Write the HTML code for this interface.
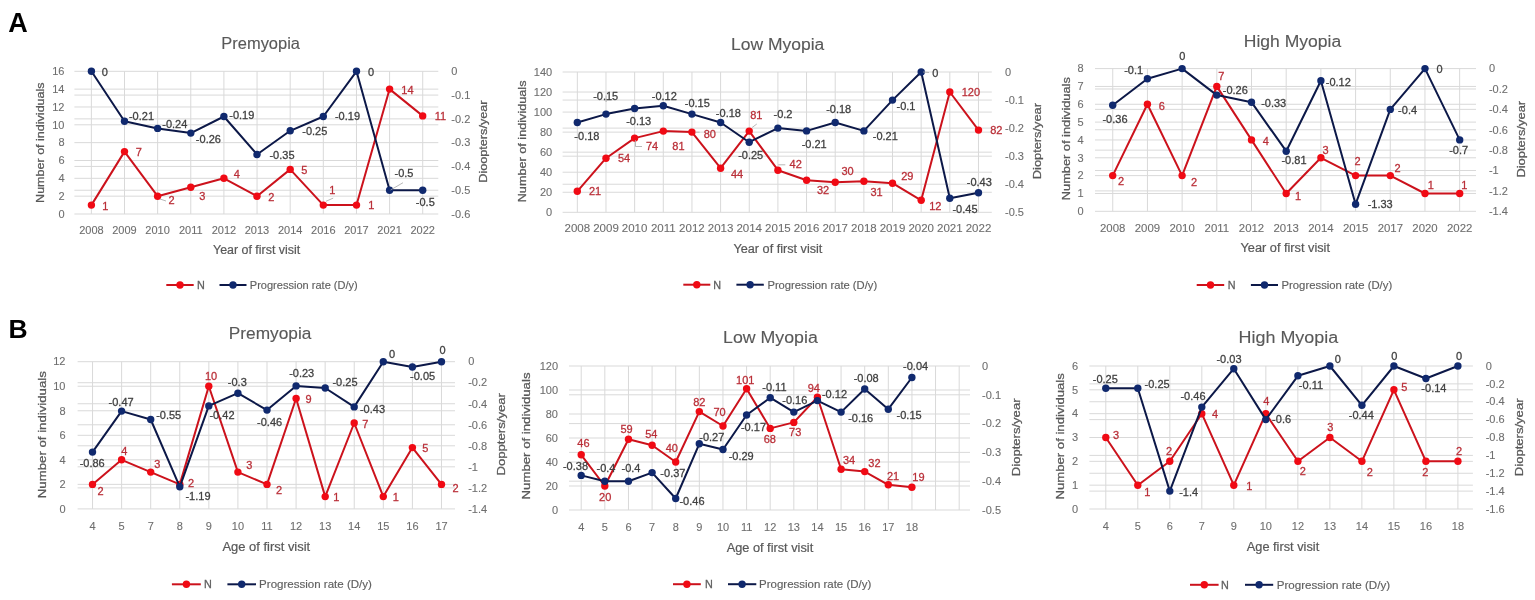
<!DOCTYPE html>
<html><head><meta charset="utf-8"><title>Myopia progression charts</title>
<style>
html,body{margin:0;padding:0;background:#fff;}
body{width:1535px;height:600px;overflow:hidden;}
svg{display:block;font-family:"Liberation Sans", Arial, sans-serif;}
text{stroke-width:0.28;}
</style></head>
<body>
<svg width="1535" height="600" viewBox="0 0 1535 600">
<rect width="1535" height="600" fill="#fff"/>
<path d="M74.4 71.30H438.3M74.4 89.14H438.3M74.4 95.08H438.3M74.4 106.97H438.3M74.4 118.87H438.3M74.4 124.81H438.3M74.4 142.65H438.3M74.4 160.49H438.3M74.4 166.43H438.3M74.4 178.32H438.3M74.4 190.22H438.3M74.4 196.16H438.3M74.4 214.00H438.3M91.37 71.3V214.0M124.50 71.3V214.0M157.64 71.3V214.0M190.78 71.3V214.0M223.91 71.3V214.0M257.05 71.3V214.0M290.19 71.3V214.0M323.32 71.3V214.0M356.46 71.3V214.0M389.60 71.3V214.0M422.73 71.3V214.0" stroke="#d9d9d9" stroke-width="1" fill="none"/>
<text x="64.5" y="217.7" font-size="11.00" fill="#6e6e6e" stroke="#6e6e6e" text-anchor="end" style="stroke-width:0.1px">0</text>
<text x="64.5" y="199.9" font-size="11.00" fill="#6e6e6e" stroke="#6e6e6e" text-anchor="end" style="stroke-width:0.1px">2</text>
<text x="64.5" y="182.0" font-size="11.00" fill="#6e6e6e" stroke="#6e6e6e" text-anchor="end" style="stroke-width:0.1px">4</text>
<text x="64.5" y="164.2" font-size="11.00" fill="#6e6e6e" stroke="#6e6e6e" text-anchor="end" style="stroke-width:0.1px">6</text>
<text x="64.5" y="146.3" font-size="11.00" fill="#6e6e6e" stroke="#6e6e6e" text-anchor="end" style="stroke-width:0.1px">8</text>
<text x="64.5" y="128.5" font-size="11.00" fill="#6e6e6e" stroke="#6e6e6e" text-anchor="end" style="stroke-width:0.1px">10</text>
<text x="64.5" y="110.7" font-size="11.00" fill="#6e6e6e" stroke="#6e6e6e" text-anchor="end" style="stroke-width:0.1px">12</text>
<text x="64.5" y="92.8" font-size="11.00" fill="#6e6e6e" stroke="#6e6e6e" text-anchor="end" style="stroke-width:0.1px">14</text>
<text x="64.5" y="75.0" font-size="11.00" fill="#6e6e6e" stroke="#6e6e6e" text-anchor="end" style="stroke-width:0.1px">16</text>
<text x="451.3" y="75.0" font-size="11.00" fill="#6e6e6e" stroke="#6e6e6e" text-anchor="start" style="stroke-width:0.1px">0</text>
<text x="451.3" y="98.8" font-size="11.00" fill="#6e6e6e" stroke="#6e6e6e" text-anchor="start" style="stroke-width:0.1px">-0.1</text>
<text x="451.3" y="122.6" font-size="11.00" fill="#6e6e6e" stroke="#6e6e6e" text-anchor="start" style="stroke-width:0.1px">-0.2</text>
<text x="451.3" y="146.3" font-size="11.00" fill="#6e6e6e" stroke="#6e6e6e" text-anchor="start" style="stroke-width:0.1px">-0.3</text>
<text x="451.3" y="170.1" font-size="11.00" fill="#6e6e6e" stroke="#6e6e6e" text-anchor="start" style="stroke-width:0.1px">-0.4</text>
<text x="451.3" y="193.9" font-size="11.00" fill="#6e6e6e" stroke="#6e6e6e" text-anchor="start" style="stroke-width:0.1px">-0.5</text>
<text x="451.3" y="217.7" font-size="11.00" fill="#6e6e6e" stroke="#6e6e6e" text-anchor="start" style="stroke-width:0.1px">-0.6</text>
<text x="91.4" y="233.6" font-size="11.00" fill="#6e6e6e" stroke="#6e6e6e" text-anchor="middle" style="stroke-width:0.1px">2008</text>
<text x="124.5" y="233.6" font-size="11.00" fill="#6e6e6e" stroke="#6e6e6e" text-anchor="middle" style="stroke-width:0.1px">2009</text>
<text x="157.6" y="233.6" font-size="11.00" fill="#6e6e6e" stroke="#6e6e6e" text-anchor="middle" style="stroke-width:0.1px">2010</text>
<text x="190.8" y="233.6" font-size="11.00" fill="#6e6e6e" stroke="#6e6e6e" text-anchor="middle" style="stroke-width:0.1px">2011</text>
<text x="223.9" y="233.6" font-size="11.00" fill="#6e6e6e" stroke="#6e6e6e" text-anchor="middle" style="stroke-width:0.1px">2012</text>
<text x="257.0" y="233.6" font-size="11.00" fill="#6e6e6e" stroke="#6e6e6e" text-anchor="middle" style="stroke-width:0.1px">2013</text>
<text x="290.2" y="233.6" font-size="11.00" fill="#6e6e6e" stroke="#6e6e6e" text-anchor="middle" style="stroke-width:0.1px">2014</text>
<text x="323.3" y="233.6" font-size="11.00" fill="#6e6e6e" stroke="#6e6e6e" text-anchor="middle" style="stroke-width:0.1px">2016</text>
<text x="356.5" y="233.6" font-size="11.00" fill="#6e6e6e" stroke="#6e6e6e" text-anchor="middle" style="stroke-width:0.1px">2017</text>
<text x="389.6" y="233.6" font-size="11.00" fill="#6e6e6e" stroke="#6e6e6e" text-anchor="middle" style="stroke-width:0.1px">2021</text>
<text x="422.7" y="233.6" font-size="11.00" fill="#6e6e6e" stroke="#6e6e6e" text-anchor="middle" style="stroke-width:0.1px">2022</text>
<polyline points="91.4,205.1 124.5,151.6 157.6,196.2 190.8,187.2 223.9,178.3 257.0,196.2 290.2,169.4 323.3,205.1 356.5,205.1 389.6,89.1 422.7,115.9" stroke="#cc121c" stroke-width="2" fill="none" stroke-linejoin="round"/>
<circle cx="91.4" cy="205.1" r="3.7" fill="#f00a14"/>
<circle cx="124.5" cy="151.6" r="3.7" fill="#f00a14"/>
<circle cx="157.6" cy="196.2" r="3.7" fill="#f00a14"/>
<circle cx="190.8" cy="187.2" r="3.7" fill="#f00a14"/>
<circle cx="223.9" cy="178.3" r="3.7" fill="#f00a14"/>
<circle cx="257.0" cy="196.2" r="3.7" fill="#f00a14"/>
<circle cx="290.2" cy="169.4" r="3.7" fill="#f00a14"/>
<circle cx="323.3" cy="205.1" r="3.7" fill="#f00a14"/>
<circle cx="356.5" cy="205.1" r="3.7" fill="#f00a14"/>
<circle cx="389.6" cy="89.1" r="3.7" fill="#f00a14"/>
<circle cx="422.7" cy="115.9" r="3.7" fill="#f00a14"/>
<polyline points="91.4,71.3 124.5,121.2 157.6,128.4 190.8,133.1 223.9,116.5 257.0,154.5 290.2,130.8 323.3,116.5 356.5,71.3 389.6,190.2 422.7,190.2" stroke="#0c1848" stroke-width="2" fill="none" stroke-linejoin="round"/>
<circle cx="91.4" cy="71.3" r="3.7" fill="#10296e"/>
<circle cx="124.5" cy="121.2" r="3.7" fill="#10296e"/>
<circle cx="157.6" cy="128.4" r="3.7" fill="#10296e"/>
<circle cx="190.8" cy="133.1" r="3.7" fill="#10296e"/>
<circle cx="223.9" cy="116.5" r="3.7" fill="#10296e"/>
<circle cx="257.0" cy="154.5" r="3.7" fill="#10296e"/>
<circle cx="290.2" cy="130.8" r="3.7" fill="#10296e"/>
<circle cx="323.3" cy="116.5" r="3.7" fill="#10296e"/>
<circle cx="356.5" cy="71.3" r="3.7" fill="#10296e"/>
<circle cx="389.6" cy="190.2" r="3.7" fill="#10296e"/>
<circle cx="422.7" cy="190.2" r="3.7" fill="#10296e"/>
<line x1="326.0" y1="201.3" x2="333.2" y2="198.1" stroke="#a6a6a6" stroke-width="0.8"/>
<line x1="390.5" y1="190.0" x2="403.0" y2="182.7" stroke="#a6a6a6" stroke-width="0.8"/>
<line x1="160.0" y1="199.0" x2="166.0" y2="201.0" stroke="#a6a6a6" stroke-width="0.8"/>
<text x="105.3" y="209.5" font-size="11.00" fill="#ba2f38" stroke="#ba2f38" text-anchor="middle">1</text>
<text x="138.8" y="155.5" font-size="11.00" fill="#ba2f38" stroke="#ba2f38" text-anchor="middle">7</text>
<text x="171.6" y="204.0" font-size="11.00" fill="#ba2f38" stroke="#ba2f38" text-anchor="middle">2</text>
<text x="202.2" y="199.5" font-size="11.00" fill="#ba2f38" stroke="#ba2f38" text-anchor="middle">3</text>
<text x="236.7" y="178.2" font-size="11.00" fill="#ba2f38" stroke="#ba2f38" text-anchor="middle">4</text>
<text x="271.2" y="200.5" font-size="11.00" fill="#ba2f38" stroke="#ba2f38" text-anchor="middle">2</text>
<text x="304.4" y="173.6" font-size="11.00" fill="#ba2f38" stroke="#ba2f38" text-anchor="middle">5</text>
<text x="332.2" y="193.6" font-size="11.00" fill="#ba2f38" stroke="#ba2f38" text-anchor="middle">1</text>
<text x="371.4" y="209.4" font-size="11.00" fill="#ba2f38" stroke="#ba2f38" text-anchor="middle">1</text>
<text x="407.4" y="93.6" font-size="11.00" fill="#ba2f38" stroke="#ba2f38" text-anchor="middle">14</text>
<text x="440.4" y="120.3" font-size="11.00" fill="#ba2f38" stroke="#ba2f38" text-anchor="middle">11</text>
<text x="104.7" y="75.5" font-size="11.00" fill="#404040" stroke="#404040" text-anchor="middle">0</text>
<text x="141.5" y="120.3" font-size="11.00" fill="#404040" stroke="#404040" text-anchor="middle">-0.21</text>
<text x="174.8" y="127.5" font-size="11.00" fill="#404040" stroke="#404040" text-anchor="middle">-0.24</text>
<text x="208.4" y="142.7" font-size="11.00" fill="#404040" stroke="#404040" text-anchor="middle">-0.26</text>
<text x="241.8" y="118.7" font-size="11.00" fill="#404040" stroke="#404040" text-anchor="middle">-0.19</text>
<text x="282.0" y="159.3" font-size="11.00" fill="#404040" stroke="#404040" text-anchor="middle">-0.35</text>
<text x="314.8" y="135.0" font-size="11.00" fill="#404040" stroke="#404040" text-anchor="middle">-0.25</text>
<text x="347.5" y="120.3" font-size="11.00" fill="#404040" stroke="#404040" text-anchor="middle">-0.19</text>
<text x="371.0" y="75.5" font-size="11.00" fill="#404040" stroke="#404040" text-anchor="middle">0</text>
<text x="404.0" y="177.4" font-size="11.00" fill="#404040" stroke="#404040" text-anchor="middle">-0.5</text>
<text x="425.3" y="205.9" font-size="11.00" fill="#404040" stroke="#404040" text-anchor="middle">-0.5</text>
<text x="221.3" y="48.9" font-size="16.50" fill="#595959" stroke="#595959" style="stroke-width:0.12px" textLength="78.7" lengthAdjust="spacingAndGlyphs">Premyopia</text>
<text transform="translate(43.6 142.6) rotate(-90)" x="-60.3" y="0" font-size="11.80" fill="#595959" stroke="#595959" textLength="120.5" lengthAdjust="spacingAndGlyphs">Number of individuals</text>
<text transform="translate(487.2 141.6) rotate(-90)" x="-41.1" y="0" font-size="11.80" fill="#595959" stroke="#595959" textLength="82.2" lengthAdjust="spacingAndGlyphs">Dioopters/year</text>
<text x="213.0" y="253.6" font-size="12.00" fill="#595959" stroke="#595959" style="stroke-width:0.20px" textLength="87.2" lengthAdjust="spacingAndGlyphs">Year of first visit</text>
<line x1="166.3" y1="285.0" x2="193.7" y2="285.0" stroke="#cc121c" stroke-width="2"/>
<circle cx="180.0" cy="285.0" r="3.7" fill="#f00a14"/>
<text x="196.9" y="288.9" font-size="10.80" fill="#606060" stroke="#606060" text-anchor="start">N</text>
<line x1="219.5" y1="285.0" x2="246.5" y2="285.0" stroke="#0c1848" stroke-width="2"/>
<circle cx="233.0" cy="285.0" r="3.7" fill="#10296e"/>
<text x="249.8" y="288.9" font-size="10.80" fill="#606060" stroke="#606060" style="stroke-width:0.15px" textLength="108.0" lengthAdjust="spacingAndGlyphs">Progression rate (D/y)</text>
<path d="M562.6 72.00H991.8M562.6 92.04H991.8M562.6 100.06H991.8M562.6 112.09H991.8M562.6 128.12H991.8M562.6 132.13H991.8M562.6 152.17H991.8M562.6 156.18H991.8M562.6 172.21H991.8M562.6 184.24H991.8M562.6 192.26H991.8M562.6 212.30H991.8M577.33 72.0V212.3M605.98 72.0V212.3M634.63 72.0V212.3M663.29 72.0V212.3M691.94 72.0V212.3M720.59 72.0V212.3M749.25 72.0V212.3M777.90 72.0V212.3M806.55 72.0V212.3M835.21 72.0V212.3M863.86 72.0V212.3M892.51 72.0V212.3M921.17 72.0V212.3M949.82 72.0V212.3M978.47 72.0V212.3" stroke="#d9d9d9" stroke-width="1" fill="none"/>
<text x="552.2" y="216.0" font-size="11.00" fill="#6e6e6e" stroke="#6e6e6e" text-anchor="end" style="stroke-width:0.1px">0</text>
<text x="552.2" y="196.0" font-size="11.00" fill="#6e6e6e" stroke="#6e6e6e" text-anchor="end" style="stroke-width:0.1px">20</text>
<text x="552.2" y="175.9" font-size="11.00" fill="#6e6e6e" stroke="#6e6e6e" text-anchor="end" style="stroke-width:0.1px">40</text>
<text x="552.2" y="155.9" font-size="11.00" fill="#6e6e6e" stroke="#6e6e6e" text-anchor="end" style="stroke-width:0.1px">60</text>
<text x="552.2" y="135.8" font-size="11.00" fill="#6e6e6e" stroke="#6e6e6e" text-anchor="end" style="stroke-width:0.1px">80</text>
<text x="552.2" y="115.8" font-size="11.00" fill="#6e6e6e" stroke="#6e6e6e" text-anchor="end" style="stroke-width:0.1px">100</text>
<text x="552.2" y="95.7" font-size="11.00" fill="#6e6e6e" stroke="#6e6e6e" text-anchor="end" style="stroke-width:0.1px">120</text>
<text x="552.2" y="75.7" font-size="11.00" fill="#6e6e6e" stroke="#6e6e6e" text-anchor="end" style="stroke-width:0.1px">140</text>
<text x="1005.0" y="75.7" font-size="11.00" fill="#6e6e6e" stroke="#6e6e6e" text-anchor="start" style="stroke-width:0.1px">0</text>
<text x="1005.0" y="103.8" font-size="11.00" fill="#6e6e6e" stroke="#6e6e6e" text-anchor="start" style="stroke-width:0.1px">-0.1</text>
<text x="1005.0" y="131.8" font-size="11.00" fill="#6e6e6e" stroke="#6e6e6e" text-anchor="start" style="stroke-width:0.1px">-0.2</text>
<text x="1005.0" y="159.9" font-size="11.00" fill="#6e6e6e" stroke="#6e6e6e" text-anchor="start" style="stroke-width:0.1px">-0.3</text>
<text x="1005.0" y="187.9" font-size="11.00" fill="#6e6e6e" stroke="#6e6e6e" text-anchor="start" style="stroke-width:0.1px">-0.4</text>
<text x="1005.0" y="216.0" font-size="11.00" fill="#6e6e6e" stroke="#6e6e6e" text-anchor="start" style="stroke-width:0.1px">-0.5</text>
<text x="577.3" y="232.4" font-size="11.50" fill="#6e6e6e" stroke="#6e6e6e" text-anchor="middle" style="stroke-width:0.1px">2008</text>
<text x="606.0" y="232.4" font-size="11.50" fill="#6e6e6e" stroke="#6e6e6e" text-anchor="middle" style="stroke-width:0.1px">2009</text>
<text x="634.6" y="232.4" font-size="11.50" fill="#6e6e6e" stroke="#6e6e6e" text-anchor="middle" style="stroke-width:0.1px">2010</text>
<text x="663.3" y="232.4" font-size="11.50" fill="#6e6e6e" stroke="#6e6e6e" text-anchor="middle" style="stroke-width:0.1px">2011</text>
<text x="691.9" y="232.4" font-size="11.50" fill="#6e6e6e" stroke="#6e6e6e" text-anchor="middle" style="stroke-width:0.1px">2012</text>
<text x="720.6" y="232.4" font-size="11.50" fill="#6e6e6e" stroke="#6e6e6e" text-anchor="middle" style="stroke-width:0.1px">2013</text>
<text x="749.2" y="232.4" font-size="11.50" fill="#6e6e6e" stroke="#6e6e6e" text-anchor="middle" style="stroke-width:0.1px">2014</text>
<text x="777.9" y="232.4" font-size="11.50" fill="#6e6e6e" stroke="#6e6e6e" text-anchor="middle" style="stroke-width:0.1px">2015</text>
<text x="806.6" y="232.4" font-size="11.50" fill="#6e6e6e" stroke="#6e6e6e" text-anchor="middle" style="stroke-width:0.1px">2016</text>
<text x="835.2" y="232.4" font-size="11.50" fill="#6e6e6e" stroke="#6e6e6e" text-anchor="middle" style="stroke-width:0.1px">2017</text>
<text x="863.9" y="232.4" font-size="11.50" fill="#6e6e6e" stroke="#6e6e6e" text-anchor="middle" style="stroke-width:0.1px">2018</text>
<text x="892.5" y="232.4" font-size="11.50" fill="#6e6e6e" stroke="#6e6e6e" text-anchor="middle" style="stroke-width:0.1px">2019</text>
<text x="921.2" y="232.4" font-size="11.50" fill="#6e6e6e" stroke="#6e6e6e" text-anchor="middle" style="stroke-width:0.1px">2020</text>
<text x="949.8" y="232.4" font-size="11.50" fill="#6e6e6e" stroke="#6e6e6e" text-anchor="middle" style="stroke-width:0.1px">2021</text>
<text x="978.5" y="232.4" font-size="11.50" fill="#6e6e6e" stroke="#6e6e6e" text-anchor="middle" style="stroke-width:0.1px">2022</text>
<polyline points="577.3,191.3 606.0,158.2 634.6,138.1 663.3,131.1 691.9,132.1 720.6,168.2 749.2,131.1 777.9,170.2 806.6,180.2 835.2,182.2 863.9,181.2 892.5,183.2 921.2,200.3 949.8,92.0 978.5,130.1" stroke="#cc121c" stroke-width="2" fill="none" stroke-linejoin="round"/>
<circle cx="577.3" cy="191.3" r="3.7" fill="#f00a14"/>
<circle cx="606.0" cy="158.2" r="3.7" fill="#f00a14"/>
<circle cx="634.6" cy="138.1" r="3.7" fill="#f00a14"/>
<circle cx="663.3" cy="131.1" r="3.7" fill="#f00a14"/>
<circle cx="691.9" cy="132.1" r="3.7" fill="#f00a14"/>
<circle cx="720.6" cy="168.2" r="3.7" fill="#f00a14"/>
<circle cx="749.2" cy="131.1" r="3.7" fill="#f00a14"/>
<circle cx="777.9" cy="170.2" r="3.7" fill="#f00a14"/>
<circle cx="806.6" cy="180.2" r="3.7" fill="#f00a14"/>
<circle cx="835.2" cy="182.2" r="3.7" fill="#f00a14"/>
<circle cx="863.9" cy="181.2" r="3.7" fill="#f00a14"/>
<circle cx="892.5" cy="183.2" r="3.7" fill="#f00a14"/>
<circle cx="921.2" cy="200.3" r="3.7" fill="#f00a14"/>
<circle cx="949.8" cy="92.0" r="3.7" fill="#f00a14"/>
<circle cx="978.5" cy="130.1" r="3.7" fill="#f00a14"/>
<polyline points="577.3,122.5 606.0,114.1 634.6,108.5 663.3,105.7 691.9,114.1 720.6,122.5 749.2,142.2 777.9,128.1 806.6,130.9 835.2,122.5 863.9,130.9 892.5,100.1 921.2,72.0 949.8,198.3 978.5,192.7" stroke="#0c1848" stroke-width="2" fill="none" stroke-linejoin="round"/>
<circle cx="577.3" cy="122.5" r="3.7" fill="#10296e"/>
<circle cx="606.0" cy="114.1" r="3.7" fill="#10296e"/>
<circle cx="634.6" cy="108.5" r="3.7" fill="#10296e"/>
<circle cx="663.3" cy="105.7" r="3.7" fill="#10296e"/>
<circle cx="691.9" cy="114.1" r="3.7" fill="#10296e"/>
<circle cx="720.6" cy="122.5" r="3.7" fill="#10296e"/>
<circle cx="749.2" cy="142.2" r="3.7" fill="#10296e"/>
<circle cx="777.9" cy="128.1" r="3.7" fill="#10296e"/>
<circle cx="806.6" cy="130.9" r="3.7" fill="#10296e"/>
<circle cx="835.2" cy="122.5" r="3.7" fill="#10296e"/>
<circle cx="863.9" cy="130.9" r="3.7" fill="#10296e"/>
<circle cx="892.5" cy="100.1" r="3.7" fill="#10296e"/>
<circle cx="921.2" cy="72.0" r="3.7" fill="#10296e"/>
<circle cx="949.8" cy="198.3" r="3.7" fill="#10296e"/>
<circle cx="978.5" cy="192.7" r="3.7" fill="#10296e"/>
<line x1="635.5" y1="140.0" x2="635.5" y2="146.5" stroke="#a6a6a6" stroke-width="0.8"/>
<line x1="635.5" y1="146.5" x2="642.0" y2="146.5" stroke="#a6a6a6" stroke-width="0.8"/>
<line x1="696.0" y1="132.2" x2="699.6" y2="132.2" stroke="#a6a6a6" stroke-width="0.8"/>
<line x1="752.1" y1="127.5" x2="756.8" y2="124.0" stroke="#a6a6a6" stroke-width="0.8"/>
<line x1="778.3" y1="164.8" x2="785.3" y2="164.8" stroke="#a6a6a6" stroke-width="0.8"/>
<line x1="923.0" y1="72.0" x2="929.0" y2="72.5" stroke="#a6a6a6" stroke-width="0.8"/>
<line x1="606.1" y1="95.5" x2="606.1" y2="102.0" stroke="#a6a6a6" stroke-width="0.8"/>
<text x="595.0" y="195.0" font-size="11.00" fill="#ba2f38" stroke="#ba2f38" text-anchor="middle">21</text>
<text x="624.0" y="162.2" font-size="11.00" fill="#ba2f38" stroke="#ba2f38" text-anchor="middle">54</text>
<text x="652.0" y="150.2" font-size="11.00" fill="#ba2f38" stroke="#ba2f38" text-anchor="middle">74</text>
<text x="678.4" y="150.2" font-size="11.00" fill="#ba2f38" stroke="#ba2f38" text-anchor="middle">81</text>
<text x="709.8" y="137.6" font-size="11.00" fill="#ba2f38" stroke="#ba2f38" text-anchor="middle">80</text>
<text x="737.1" y="177.6" font-size="11.00" fill="#ba2f38" stroke="#ba2f38" text-anchor="middle">44</text>
<text x="756.3" y="118.7" font-size="11.00" fill="#ba2f38" stroke="#ba2f38" text-anchor="middle">81</text>
<text x="795.7" y="168.3" font-size="11.00" fill="#ba2f38" stroke="#ba2f38" text-anchor="middle">42</text>
<text x="823.0" y="194.2" font-size="11.00" fill="#ba2f38" stroke="#ba2f38" text-anchor="middle">32</text>
<text x="847.6" y="175.3" font-size="11.00" fill="#ba2f38" stroke="#ba2f38" text-anchor="middle">30</text>
<text x="876.5" y="196.0" font-size="11.00" fill="#ba2f38" stroke="#ba2f38" text-anchor="middle">31</text>
<text x="907.3" y="180.0" font-size="11.00" fill="#ba2f38" stroke="#ba2f38" text-anchor="middle">29</text>
<text x="935.3" y="210.2" font-size="11.00" fill="#ba2f38" stroke="#ba2f38" text-anchor="middle">12</text>
<text x="970.9" y="96.0" font-size="11.00" fill="#ba2f38" stroke="#ba2f38" text-anchor="middle">120</text>
<text x="996.3" y="134.2" font-size="11.00" fill="#ba2f38" stroke="#ba2f38" text-anchor="middle">82</text>
<text x="586.9" y="139.5" font-size="11.00" fill="#404040" stroke="#404040" text-anchor="middle">-0.18</text>
<text x="605.7" y="99.5" font-size="11.00" fill="#404040" stroke="#404040" text-anchor="middle">-0.15</text>
<text x="638.7" y="125.4" font-size="11.00" fill="#404040" stroke="#404040" text-anchor="middle">-0.13</text>
<text x="664.3" y="99.5" font-size="11.00" fill="#404040" stroke="#404040" text-anchor="middle">-0.12</text>
<text x="697.3" y="107.0" font-size="11.00" fill="#404040" stroke="#404040" text-anchor="middle">-0.15</text>
<text x="728.4" y="116.8" font-size="11.00" fill="#404040" stroke="#404040" text-anchor="middle">-0.18</text>
<text x="750.7" y="158.7" font-size="11.00" fill="#404040" stroke="#404040" text-anchor="middle">-0.25</text>
<text x="783.0" y="118.2" font-size="11.00" fill="#404040" stroke="#404040" text-anchor="middle">-0.2</text>
<text x="814.2" y="148.0" font-size="11.00" fill="#404040" stroke="#404040" text-anchor="middle">-0.21</text>
<text x="838.7" y="113.4" font-size="11.00" fill="#404040" stroke="#404040" text-anchor="middle">-0.18</text>
<text x="885.3" y="140.4" font-size="11.00" fill="#404040" stroke="#404040" text-anchor="middle">-0.21</text>
<text x="906.0" y="110.2" font-size="11.00" fill="#404040" stroke="#404040" text-anchor="middle">-0.1</text>
<text x="935.3" y="76.8" font-size="11.00" fill="#404040" stroke="#404040" text-anchor="middle">0</text>
<text x="965.0" y="213.3" font-size="11.00" fill="#404040" stroke="#404040" text-anchor="middle">-0.45</text>
<text x="979.3" y="185.6" font-size="11.00" fill="#404040" stroke="#404040" text-anchor="middle">-0.43</text>
<text x="731.1" y="49.8" font-size="17.30" fill="#595959" stroke="#595959" style="stroke-width:0.12px" textLength="93.2" lengthAdjust="spacingAndGlyphs">Low Myopia</text>
<text transform="translate(525.6 141.4) rotate(-90)" x="-60.9" y="0" font-size="11.80" fill="#595959" stroke="#595959" textLength="121.8" lengthAdjust="spacingAndGlyphs">Number of individuals</text>
<text transform="translate(1041.2 141.1) rotate(-90)" x="-38.1" y="0" font-size="11.80" fill="#595959" stroke="#595959" textLength="76.2" lengthAdjust="spacingAndGlyphs">Diopters/year</text>
<text x="733.5" y="252.7" font-size="12.00" fill="#595959" stroke="#595959" style="stroke-width:0.20px" textLength="88.9" lengthAdjust="spacingAndGlyphs">Year of first visit</text>
<line x1="683.3" y1="284.7" x2="710.3" y2="284.7" stroke="#cc121c" stroke-width="2"/>
<circle cx="696.8" cy="284.7" r="3.7" fill="#f00a14"/>
<text x="713.2" y="288.6" font-size="10.80" fill="#606060" stroke="#606060" text-anchor="start">N</text>
<line x1="736.4" y1="284.7" x2="763.8" y2="284.7" stroke="#0c1848" stroke-width="2"/>
<circle cx="750.1" cy="284.7" r="3.7" fill="#10296e"/>
<text x="767.4" y="288.6" font-size="10.80" fill="#606060" stroke="#606060" style="stroke-width:0.15px" textLength="109.8" lengthAdjust="spacingAndGlyphs">Progression rate (D/y)</text>
<path d="M1095.0 68.60H1476.0M1095.0 86.44H1476.0M1095.0 88.99H1476.0M1095.0 104.28H1476.0M1095.0 109.37H1476.0M1095.0 122.11H1476.0M1095.0 129.76H1476.0M1095.0 139.95H1476.0M1095.0 150.14H1476.0M1095.0 157.79H1476.0M1095.0 170.53H1476.0M1095.0 175.62H1476.0M1095.0 190.91H1476.0M1095.0 193.46H1476.0M1095.0 211.30H1476.0M1112.75 68.6V211.3M1147.44 68.6V211.3M1182.13 68.6V211.3M1216.82 68.6V211.3M1251.51 68.6V211.3M1286.20 68.6V211.3M1320.89 68.6V211.3M1355.58 68.6V211.3M1390.27 68.6V211.3M1424.96 68.6V211.3M1459.65 68.6V211.3" stroke="#d9d9d9" stroke-width="1" fill="none"/>
<text x="1083.6" y="215.0" font-size="11.00" fill="#6e6e6e" stroke="#6e6e6e" text-anchor="end" style="stroke-width:0.1px">0</text>
<text x="1083.6" y="197.2" font-size="11.00" fill="#6e6e6e" stroke="#6e6e6e" text-anchor="end" style="stroke-width:0.1px">1</text>
<text x="1083.6" y="179.3" font-size="11.00" fill="#6e6e6e" stroke="#6e6e6e" text-anchor="end" style="stroke-width:0.1px">2</text>
<text x="1083.6" y="161.5" font-size="11.00" fill="#6e6e6e" stroke="#6e6e6e" text-anchor="end" style="stroke-width:0.1px">3</text>
<text x="1083.6" y="143.6" font-size="11.00" fill="#6e6e6e" stroke="#6e6e6e" text-anchor="end" style="stroke-width:0.1px">4</text>
<text x="1083.6" y="125.8" font-size="11.00" fill="#6e6e6e" stroke="#6e6e6e" text-anchor="end" style="stroke-width:0.1px">5</text>
<text x="1083.6" y="108.0" font-size="11.00" fill="#6e6e6e" stroke="#6e6e6e" text-anchor="end" style="stroke-width:0.1px">6</text>
<text x="1083.6" y="90.1" font-size="11.00" fill="#6e6e6e" stroke="#6e6e6e" text-anchor="end" style="stroke-width:0.1px">7</text>
<text x="1083.6" y="72.3" font-size="11.00" fill="#6e6e6e" stroke="#6e6e6e" text-anchor="end" style="stroke-width:0.1px">8</text>
<text x="1488.9" y="72.3" font-size="11.00" fill="#6e6e6e" stroke="#6e6e6e" text-anchor="start" style="stroke-width:0.1px">0</text>
<text x="1488.9" y="92.7" font-size="11.00" fill="#6e6e6e" stroke="#6e6e6e" text-anchor="start" style="stroke-width:0.1px">-0.2</text>
<text x="1488.9" y="113.1" font-size="11.00" fill="#6e6e6e" stroke="#6e6e6e" text-anchor="start" style="stroke-width:0.1px">-0.4</text>
<text x="1488.9" y="133.5" font-size="11.00" fill="#6e6e6e" stroke="#6e6e6e" text-anchor="start" style="stroke-width:0.1px">-0.6</text>
<text x="1488.9" y="153.8" font-size="11.00" fill="#6e6e6e" stroke="#6e6e6e" text-anchor="start" style="stroke-width:0.1px">-0.8</text>
<text x="1488.9" y="174.2" font-size="11.00" fill="#6e6e6e" stroke="#6e6e6e" text-anchor="start" style="stroke-width:0.1px">-1</text>
<text x="1488.9" y="194.6" font-size="11.00" fill="#6e6e6e" stroke="#6e6e6e" text-anchor="start" style="stroke-width:0.1px">-1.2</text>
<text x="1488.9" y="215.0" font-size="11.00" fill="#6e6e6e" stroke="#6e6e6e" text-anchor="start" style="stroke-width:0.1px">-1.4</text>
<text x="1112.7" y="231.9" font-size="11.40" fill="#6e6e6e" stroke="#6e6e6e" text-anchor="middle" style="stroke-width:0.1px">2008</text>
<text x="1147.4" y="231.9" font-size="11.40" fill="#6e6e6e" stroke="#6e6e6e" text-anchor="middle" style="stroke-width:0.1px">2009</text>
<text x="1182.1" y="231.9" font-size="11.40" fill="#6e6e6e" stroke="#6e6e6e" text-anchor="middle" style="stroke-width:0.1px">2010</text>
<text x="1216.8" y="231.9" font-size="11.40" fill="#6e6e6e" stroke="#6e6e6e" text-anchor="middle" style="stroke-width:0.1px">2011</text>
<text x="1251.5" y="231.9" font-size="11.40" fill="#6e6e6e" stroke="#6e6e6e" text-anchor="middle" style="stroke-width:0.1px">2012</text>
<text x="1286.2" y="231.9" font-size="11.40" fill="#6e6e6e" stroke="#6e6e6e" text-anchor="middle" style="stroke-width:0.1px">2013</text>
<text x="1320.9" y="231.9" font-size="11.40" fill="#6e6e6e" stroke="#6e6e6e" text-anchor="middle" style="stroke-width:0.1px">2014</text>
<text x="1355.6" y="231.9" font-size="11.40" fill="#6e6e6e" stroke="#6e6e6e" text-anchor="middle" style="stroke-width:0.1px">2015</text>
<text x="1390.3" y="231.9" font-size="11.40" fill="#6e6e6e" stroke="#6e6e6e" text-anchor="middle" style="stroke-width:0.1px">2017</text>
<text x="1425.0" y="231.9" font-size="11.40" fill="#6e6e6e" stroke="#6e6e6e" text-anchor="middle" style="stroke-width:0.1px">2020</text>
<text x="1459.7" y="231.9" font-size="11.40" fill="#6e6e6e" stroke="#6e6e6e" text-anchor="middle" style="stroke-width:0.1px">2022</text>
<polyline points="1112.7,175.6 1147.4,104.3 1182.1,175.6 1216.8,86.4 1251.5,139.9 1286.2,193.5 1320.9,157.8 1355.6,175.6 1390.3,175.6 1425.0,193.5 1459.7,193.5" stroke="#cc121c" stroke-width="2" fill="none" stroke-linejoin="round"/>
<circle cx="1112.7" cy="175.6" r="3.7" fill="#f00a14"/>
<circle cx="1147.4" cy="104.3" r="3.7" fill="#f00a14"/>
<circle cx="1182.1" cy="175.6" r="3.7" fill="#f00a14"/>
<circle cx="1216.8" cy="86.4" r="3.7" fill="#f00a14"/>
<circle cx="1251.5" cy="139.9" r="3.7" fill="#f00a14"/>
<circle cx="1286.2" cy="193.5" r="3.7" fill="#f00a14"/>
<circle cx="1320.9" cy="157.8" r="3.7" fill="#f00a14"/>
<circle cx="1355.6" cy="175.6" r="3.7" fill="#f00a14"/>
<circle cx="1390.3" cy="175.6" r="3.7" fill="#f00a14"/>
<circle cx="1425.0" cy="193.5" r="3.7" fill="#f00a14"/>
<circle cx="1459.7" cy="193.5" r="3.7" fill="#f00a14"/>
<polyline points="1112.7,105.3 1147.4,78.8 1182.1,68.6 1216.8,95.1 1251.5,102.2 1286.2,151.2 1320.9,80.8 1355.6,204.2 1390.3,109.4 1425.0,68.6 1459.7,139.9" stroke="#0c1848" stroke-width="2" fill="none" stroke-linejoin="round"/>
<circle cx="1112.7" cy="105.3" r="3.7" fill="#10296e"/>
<circle cx="1147.4" cy="78.8" r="3.7" fill="#10296e"/>
<circle cx="1182.1" cy="68.6" r="3.7" fill="#10296e"/>
<circle cx="1216.8" cy="95.1" r="3.7" fill="#10296e"/>
<circle cx="1251.5" cy="102.2" r="3.7" fill="#10296e"/>
<circle cx="1286.2" cy="151.2" r="3.7" fill="#10296e"/>
<circle cx="1320.9" cy="80.8" r="3.7" fill="#10296e"/>
<circle cx="1355.6" cy="204.2" r="3.7" fill="#10296e"/>
<circle cx="1390.3" cy="109.4" r="3.7" fill="#10296e"/>
<circle cx="1425.0" cy="68.6" r="3.7" fill="#10296e"/>
<circle cx="1459.7" cy="139.9" r="3.7" fill="#10296e"/>
<text x="1121.0" y="184.7" font-size="11.00" fill="#ba2f38" stroke="#ba2f38" text-anchor="middle">2</text>
<text x="1161.7" y="109.5" font-size="11.00" fill="#ba2f38" stroke="#ba2f38" text-anchor="middle">6</text>
<text x="1194.0" y="185.8" font-size="11.00" fill="#ba2f38" stroke="#ba2f38" text-anchor="middle">2</text>
<text x="1221.3" y="80.2" font-size="11.00" fill="#ba2f38" stroke="#ba2f38" text-anchor="middle">7</text>
<text x="1265.8" y="145.0" font-size="11.00" fill="#ba2f38" stroke="#ba2f38" text-anchor="middle">4</text>
<text x="1298.0" y="199.6" font-size="11.00" fill="#ba2f38" stroke="#ba2f38" text-anchor="middle">1</text>
<text x="1325.6" y="154.0" font-size="11.00" fill="#ba2f38" stroke="#ba2f38" text-anchor="middle">3</text>
<text x="1357.6" y="164.7" font-size="11.00" fill="#ba2f38" stroke="#ba2f38" text-anchor="middle">2</text>
<text x="1397.6" y="172.2" font-size="11.00" fill="#ba2f38" stroke="#ba2f38" text-anchor="middle">2</text>
<text x="1430.7" y="188.7" font-size="11.00" fill="#ba2f38" stroke="#ba2f38" text-anchor="middle">1</text>
<text x="1464.3" y="189.0" font-size="11.00" fill="#ba2f38" stroke="#ba2f38" text-anchor="middle">1</text>
<text x="1115.0" y="122.8" font-size="11.00" fill="#404040" stroke="#404040" text-anchor="middle">-0.36</text>
<text x="1133.7" y="74.0" font-size="11.00" fill="#404040" stroke="#404040" text-anchor="middle">-0.1</text>
<text x="1182.4" y="60.2" font-size="11.00" fill="#404040" stroke="#404040" text-anchor="middle">0</text>
<text x="1235.3" y="94.0" font-size="11.00" fill="#404040" stroke="#404040" text-anchor="middle">-0.26</text>
<text x="1273.7" y="106.8" font-size="11.00" fill="#404040" stroke="#404040" text-anchor="middle">-0.33</text>
<text x="1294.0" y="163.6" font-size="11.00" fill="#404040" stroke="#404040" text-anchor="middle">-0.81</text>
<text x="1338.3" y="85.5" font-size="11.00" fill="#404040" stroke="#404040" text-anchor="middle">-0.12</text>
<text x="1380.2" y="207.6" font-size="11.00" fill="#404040" stroke="#404040" text-anchor="middle">-1.33</text>
<text x="1407.6" y="114.3" font-size="11.00" fill="#404040" stroke="#404040" text-anchor="middle">-0.4</text>
<text x="1439.5" y="72.9" font-size="11.00" fill="#404040" stroke="#404040" text-anchor="middle">0</text>
<text x="1458.7" y="154.3" font-size="11.00" fill="#404040" stroke="#404040" text-anchor="middle">-0.7</text>
<text x="1243.8" y="46.7" font-size="17.30" fill="#595959" stroke="#595959" style="stroke-width:0.12px" textLength="97.4" lengthAdjust="spacingAndGlyphs">High Myopia</text>
<text transform="translate(1069.5 138.7) rotate(-90)" x="-61.5" y="0" font-size="11.80" fill="#595959" stroke="#595959" textLength="123.0" lengthAdjust="spacingAndGlyphs">Number of individuals</text>
<text transform="translate(1524.6 139.3) rotate(-90)" x="-38.3" y="0" font-size="11.80" fill="#595959" stroke="#595959" textLength="76.7" lengthAdjust="spacingAndGlyphs">Diopters/year</text>
<text x="1240.5" y="252.1" font-size="12.00" fill="#595959" stroke="#595959" style="stroke-width:0.20px" textLength="89.5" lengthAdjust="spacingAndGlyphs">Year of first visit</text>
<line x1="1196.7" y1="285.0" x2="1224.2" y2="285.0" stroke="#cc121c" stroke-width="2"/>
<circle cx="1210.5" cy="285.0" r="3.7" fill="#f00a14"/>
<text x="1227.7" y="288.9" font-size="10.80" fill="#606060" stroke="#606060" text-anchor="start">N</text>
<line x1="1250.9" y1="285.0" x2="1278.0" y2="285.0" stroke="#0c1848" stroke-width="2"/>
<circle cx="1264.5" cy="285.0" r="3.7" fill="#10296e"/>
<text x="1281.5" y="288.9" font-size="10.80" fill="#606060" stroke="#606060" style="stroke-width:0.15px" textLength="110.7" lengthAdjust="spacingAndGlyphs">Progression rate (D/y)</text>
<path d="M77.6 361.70H455.0M77.6 382.73H455.0M77.6 386.23H455.0M77.6 403.76H455.0M77.6 410.77H455.0M77.6 424.79H455.0M77.6 435.30H455.0M77.6 445.81H455.0M77.6 459.83H455.0M77.6 466.84H455.0M77.6 484.37H455.0M77.6 487.87H455.0M77.6 508.90H455.0M92.54 361.7V508.9M121.62 361.7V508.9M150.69 361.7V508.9M179.77 361.7V508.9M208.85 361.7V508.9M237.92 361.7V508.9M267.00 361.7V508.9M296.08 361.7V508.9M325.15 361.7V508.9M354.23 361.7V508.9M383.31 361.7V508.9M412.38 361.7V508.9M441.46 361.7V508.9" stroke="#d9d9d9" stroke-width="1" fill="none"/>
<text x="65.5" y="512.6" font-size="11.00" fill="#6e6e6e" stroke="#6e6e6e" text-anchor="end" style="stroke-width:0.1px">0</text>
<text x="65.5" y="488.1" font-size="11.00" fill="#6e6e6e" stroke="#6e6e6e" text-anchor="end" style="stroke-width:0.1px">2</text>
<text x="65.5" y="463.5" font-size="11.00" fill="#6e6e6e" stroke="#6e6e6e" text-anchor="end" style="stroke-width:0.1px">4</text>
<text x="65.5" y="439.0" font-size="11.00" fill="#6e6e6e" stroke="#6e6e6e" text-anchor="end" style="stroke-width:0.1px">6</text>
<text x="65.5" y="414.5" font-size="11.00" fill="#6e6e6e" stroke="#6e6e6e" text-anchor="end" style="stroke-width:0.1px">8</text>
<text x="65.5" y="389.9" font-size="11.00" fill="#6e6e6e" stroke="#6e6e6e" text-anchor="end" style="stroke-width:0.1px">10</text>
<text x="65.5" y="365.4" font-size="11.00" fill="#6e6e6e" stroke="#6e6e6e" text-anchor="end" style="stroke-width:0.1px">12</text>
<text x="468.2" y="365.4" font-size="11.00" fill="#6e6e6e" stroke="#6e6e6e" text-anchor="start" style="stroke-width:0.1px">0</text>
<text x="468.2" y="386.4" font-size="11.00" fill="#6e6e6e" stroke="#6e6e6e" text-anchor="start" style="stroke-width:0.1px">-0.2</text>
<text x="468.2" y="407.5" font-size="11.00" fill="#6e6e6e" stroke="#6e6e6e" text-anchor="start" style="stroke-width:0.1px">-0.4</text>
<text x="468.2" y="428.5" font-size="11.00" fill="#6e6e6e" stroke="#6e6e6e" text-anchor="start" style="stroke-width:0.1px">-0.6</text>
<text x="468.2" y="449.5" font-size="11.00" fill="#6e6e6e" stroke="#6e6e6e" text-anchor="start" style="stroke-width:0.1px">-0.8</text>
<text x="468.2" y="470.5" font-size="11.00" fill="#6e6e6e" stroke="#6e6e6e" text-anchor="start" style="stroke-width:0.1px">-1</text>
<text x="468.2" y="491.6" font-size="11.00" fill="#6e6e6e" stroke="#6e6e6e" text-anchor="start" style="stroke-width:0.1px">-1.2</text>
<text x="468.2" y="512.6" font-size="11.00" fill="#6e6e6e" stroke="#6e6e6e" text-anchor="start" style="stroke-width:0.1px">-1.4</text>
<text x="92.5" y="529.9" font-size="11.00" fill="#6e6e6e" stroke="#6e6e6e" text-anchor="middle" style="stroke-width:0.1px">4</text>
<text x="121.6" y="529.9" font-size="11.00" fill="#6e6e6e" stroke="#6e6e6e" text-anchor="middle" style="stroke-width:0.1px">5</text>
<text x="150.7" y="529.9" font-size="11.00" fill="#6e6e6e" stroke="#6e6e6e" text-anchor="middle" style="stroke-width:0.1px">7</text>
<text x="179.8" y="529.9" font-size="11.00" fill="#6e6e6e" stroke="#6e6e6e" text-anchor="middle" style="stroke-width:0.1px">8</text>
<text x="208.8" y="529.9" font-size="11.00" fill="#6e6e6e" stroke="#6e6e6e" text-anchor="middle" style="stroke-width:0.1px">9</text>
<text x="237.9" y="529.9" font-size="11.00" fill="#6e6e6e" stroke="#6e6e6e" text-anchor="middle" style="stroke-width:0.1px">10</text>
<text x="267.0" y="529.9" font-size="11.00" fill="#6e6e6e" stroke="#6e6e6e" text-anchor="middle" style="stroke-width:0.1px">11</text>
<text x="296.1" y="529.9" font-size="11.00" fill="#6e6e6e" stroke="#6e6e6e" text-anchor="middle" style="stroke-width:0.1px">12</text>
<text x="325.2" y="529.9" font-size="11.00" fill="#6e6e6e" stroke="#6e6e6e" text-anchor="middle" style="stroke-width:0.1px">13</text>
<text x="354.2" y="529.9" font-size="11.00" fill="#6e6e6e" stroke="#6e6e6e" text-anchor="middle" style="stroke-width:0.1px">14</text>
<text x="383.3" y="529.9" font-size="11.00" fill="#6e6e6e" stroke="#6e6e6e" text-anchor="middle" style="stroke-width:0.1px">15</text>
<text x="412.4" y="529.9" font-size="11.00" fill="#6e6e6e" stroke="#6e6e6e" text-anchor="middle" style="stroke-width:0.1px">16</text>
<text x="441.5" y="529.9" font-size="11.00" fill="#6e6e6e" stroke="#6e6e6e" text-anchor="middle" style="stroke-width:0.1px">17</text>
<polyline points="92.5,484.4 121.6,459.8 150.7,472.1 179.8,484.4 208.8,386.2 237.9,472.1 267.0,484.4 296.1,398.5 325.2,496.6 354.2,423.0 383.3,496.6 412.4,447.6 441.5,484.4" stroke="#cc121c" stroke-width="2" fill="none" stroke-linejoin="round"/>
<circle cx="92.5" cy="484.4" r="3.7" fill="#f00a14"/>
<circle cx="121.6" cy="459.8" r="3.7" fill="#f00a14"/>
<circle cx="150.7" cy="472.1" r="3.7" fill="#f00a14"/>
<circle cx="179.8" cy="484.4" r="3.7" fill="#f00a14"/>
<circle cx="208.8" cy="386.2" r="3.7" fill="#f00a14"/>
<circle cx="237.9" cy="472.1" r="3.7" fill="#f00a14"/>
<circle cx="267.0" cy="484.4" r="3.7" fill="#f00a14"/>
<circle cx="296.1" cy="398.5" r="3.7" fill="#f00a14"/>
<circle cx="325.2" cy="496.6" r="3.7" fill="#f00a14"/>
<circle cx="354.2" cy="423.0" r="3.7" fill="#f00a14"/>
<circle cx="383.3" cy="496.6" r="3.7" fill="#f00a14"/>
<circle cx="412.4" cy="447.6" r="3.7" fill="#f00a14"/>
<circle cx="441.5" cy="484.4" r="3.7" fill="#f00a14"/>
<polyline points="92.5,452.1 121.6,411.1 150.7,419.5 179.8,486.8 208.8,405.9 237.9,393.2 267.0,410.1 296.1,385.9 325.2,388.0 354.2,406.9 383.3,361.7 412.4,367.0 441.5,361.7" stroke="#0c1848" stroke-width="2" fill="none" stroke-linejoin="round"/>
<circle cx="92.5" cy="452.1" r="3.7" fill="#10296e"/>
<circle cx="121.6" cy="411.1" r="3.7" fill="#10296e"/>
<circle cx="150.7" cy="419.5" r="3.7" fill="#10296e"/>
<circle cx="179.8" cy="486.8" r="3.7" fill="#10296e"/>
<circle cx="208.8" cy="405.9" r="3.7" fill="#10296e"/>
<circle cx="237.9" cy="393.2" r="3.7" fill="#10296e"/>
<circle cx="267.0" cy="410.1" r="3.7" fill="#10296e"/>
<circle cx="296.1" cy="385.9" r="3.7" fill="#10296e"/>
<circle cx="325.2" cy="388.0" r="3.7" fill="#10296e"/>
<circle cx="354.2" cy="406.9" r="3.7" fill="#10296e"/>
<circle cx="383.3" cy="361.7" r="3.7" fill="#10296e"/>
<circle cx="412.4" cy="367.0" r="3.7" fill="#10296e"/>
<circle cx="441.5" cy="361.7" r="3.7" fill="#10296e"/>
<text x="100.6" y="494.7" font-size="11.00" fill="#ba2f38" stroke="#ba2f38" text-anchor="middle">2</text>
<text x="124.3" y="454.7" font-size="11.00" fill="#ba2f38" stroke="#ba2f38" text-anchor="middle">4</text>
<text x="157.3" y="467.5" font-size="11.00" fill="#ba2f38" stroke="#ba2f38" text-anchor="middle">3</text>
<text x="191.0" y="486.7" font-size="11.00" fill="#ba2f38" stroke="#ba2f38" text-anchor="middle">2</text>
<text x="211.0" y="380.2" font-size="11.00" fill="#ba2f38" stroke="#ba2f38" text-anchor="middle">10</text>
<text x="249.2" y="468.9" font-size="11.00" fill="#ba2f38" stroke="#ba2f38" text-anchor="middle">3</text>
<text x="279.0" y="494.0" font-size="11.00" fill="#ba2f38" stroke="#ba2f38" text-anchor="middle">2</text>
<text x="308.5" y="402.5" font-size="11.00" fill="#ba2f38" stroke="#ba2f38" text-anchor="middle">9</text>
<text x="336.3" y="500.9" font-size="11.00" fill="#ba2f38" stroke="#ba2f38" text-anchor="middle">1</text>
<text x="365.3" y="428.1" font-size="11.00" fill="#ba2f38" stroke="#ba2f38" text-anchor="middle">7</text>
<text x="395.7" y="500.9" font-size="11.00" fill="#ba2f38" stroke="#ba2f38" text-anchor="middle">1</text>
<text x="425.2" y="452.0" font-size="11.00" fill="#ba2f38" stroke="#ba2f38" text-anchor="middle">5</text>
<text x="455.5" y="491.9" font-size="11.00" fill="#ba2f38" stroke="#ba2f38" text-anchor="middle">2</text>
<text x="92.2" y="466.5" font-size="11.00" fill="#404040" stroke="#404040" text-anchor="middle">-0.86</text>
<text x="121.1" y="405.5" font-size="11.00" fill="#404040" stroke="#404040" text-anchor="middle">-0.47</text>
<text x="168.7" y="419.4" font-size="11.00" fill="#404040" stroke="#404040" text-anchor="middle">-0.55</text>
<text x="198.0" y="499.5" font-size="11.00" fill="#404040" stroke="#404040" text-anchor="middle">-1.19</text>
<text x="222.0" y="418.8" font-size="11.00" fill="#404040" stroke="#404040" text-anchor="middle">-0.42</text>
<text x="237.3" y="386.3" font-size="11.00" fill="#404040" stroke="#404040" text-anchor="middle">-0.3</text>
<text x="269.6" y="425.5" font-size="11.00" fill="#404040" stroke="#404040" text-anchor="middle">-0.46</text>
<text x="301.7" y="377.0" font-size="11.00" fill="#404040" stroke="#404040" text-anchor="middle">-0.23</text>
<text x="345.0" y="386.2" font-size="11.00" fill="#404040" stroke="#404040" text-anchor="middle">-0.25</text>
<text x="372.5" y="413.2" font-size="11.00" fill="#404040" stroke="#404040" text-anchor="middle">-0.43</text>
<text x="392.0" y="358.2" font-size="11.00" fill="#404040" stroke="#404040" text-anchor="middle">0</text>
<text x="422.6" y="380.3" font-size="11.00" fill="#404040" stroke="#404040" text-anchor="middle">-0.05</text>
<text x="442.6" y="353.6" font-size="11.00" fill="#404040" stroke="#404040" text-anchor="middle">0</text>
<text x="228.8" y="338.8" font-size="17.00" fill="#595959" stroke="#595959" style="stroke-width:0.12px" textLength="82.6" lengthAdjust="spacingAndGlyphs">Premyopia</text>
<text transform="translate(45.6 434.7) rotate(-90)" x="-63.5" y="0" font-size="11.80" fill="#595959" stroke="#595959" textLength="127.0" lengthAdjust="spacingAndGlyphs">Number of individuals</text>
<text transform="translate(505.2 434.3) rotate(-90)" x="-41.3" y="0" font-size="11.80" fill="#595959" stroke="#595959" textLength="82.6" lengthAdjust="spacingAndGlyphs">Doppters/year</text>
<text x="222.4" y="550.8" font-size="12.00" fill="#595959" stroke="#595959" style="stroke-width:0.20px" textLength="87.8" lengthAdjust="spacingAndGlyphs">Age of first visit</text>
<line x1="171.9" y1="584.3" x2="200.8" y2="584.3" stroke="#cc121c" stroke-width="2"/>
<circle cx="186.4" cy="584.3" r="3.7" fill="#f00a14"/>
<text x="204.1" y="588.2" font-size="10.80" fill="#606060" stroke="#606060" text-anchor="start">N</text>
<line x1="227.4" y1="584.3" x2="256.0" y2="584.3" stroke="#0c1848" stroke-width="2"/>
<circle cx="241.7" cy="584.3" r="3.7" fill="#10296e"/>
<text x="259.1" y="588.2" font-size="10.80" fill="#606060" stroke="#606060" style="stroke-width:0.15px" textLength="112.8" lengthAdjust="spacingAndGlyphs">Progression rate (D/y)</text>
<path d="M569.0 366.00H970.0M569.0 390.00H970.0M569.0 394.80H970.0M569.0 414.00H970.0M569.0 423.60H970.0M569.0 438.00H970.0M569.0 452.40H970.0M569.0 462.00H970.0M569.0 481.20H970.0M569.0 486.00H970.0M569.0 510.00H970.0M581.21 366.0V510.0M604.84 366.0V510.0M628.46 366.0V510.0M652.08 366.0V510.0M675.71 366.0V510.0M699.33 366.0V510.0M722.95 366.0V510.0M746.58 366.0V510.0M770.20 366.0V510.0M793.82 366.0V510.0M817.45 366.0V510.0M841.07 366.0V510.0M864.69 366.0V510.0M888.32 366.0V510.0M911.94 366.0V510.0M935.56 366.0V510.0M959.19 366.0V510.0" stroke="#d9d9d9" stroke-width="1" fill="none"/>
<text x="558.0" y="513.7" font-size="11.00" fill="#6e6e6e" stroke="#6e6e6e" text-anchor="end" style="stroke-width:0.1px">0</text>
<text x="558.0" y="489.7" font-size="11.00" fill="#6e6e6e" stroke="#6e6e6e" text-anchor="end" style="stroke-width:0.1px">20</text>
<text x="558.0" y="465.7" font-size="11.00" fill="#6e6e6e" stroke="#6e6e6e" text-anchor="end" style="stroke-width:0.1px">40</text>
<text x="558.0" y="441.7" font-size="11.00" fill="#6e6e6e" stroke="#6e6e6e" text-anchor="end" style="stroke-width:0.1px">60</text>
<text x="558.0" y="417.7" font-size="11.00" fill="#6e6e6e" stroke="#6e6e6e" text-anchor="end" style="stroke-width:0.1px">80</text>
<text x="558.0" y="393.7" font-size="11.00" fill="#6e6e6e" stroke="#6e6e6e" text-anchor="end" style="stroke-width:0.1px">100</text>
<text x="558.0" y="369.7" font-size="11.00" fill="#6e6e6e" stroke="#6e6e6e" text-anchor="end" style="stroke-width:0.1px">120</text>
<text x="982.1" y="369.7" font-size="11.00" fill="#6e6e6e" stroke="#6e6e6e" text-anchor="start" style="stroke-width:0.1px">0</text>
<text x="982.1" y="398.5" font-size="11.00" fill="#6e6e6e" stroke="#6e6e6e" text-anchor="start" style="stroke-width:0.1px">-0.1</text>
<text x="982.1" y="427.3" font-size="11.00" fill="#6e6e6e" stroke="#6e6e6e" text-anchor="start" style="stroke-width:0.1px">-0.2</text>
<text x="982.1" y="456.1" font-size="11.00" fill="#6e6e6e" stroke="#6e6e6e" text-anchor="start" style="stroke-width:0.1px">-0.3</text>
<text x="982.1" y="484.9" font-size="11.00" fill="#6e6e6e" stroke="#6e6e6e" text-anchor="start" style="stroke-width:0.1px">-0.4</text>
<text x="982.1" y="513.7" font-size="11.00" fill="#6e6e6e" stroke="#6e6e6e" text-anchor="start" style="stroke-width:0.1px">-0.5</text>
<text x="581.2" y="530.6" font-size="11.00" fill="#6e6e6e" stroke="#6e6e6e" text-anchor="middle" style="stroke-width:0.1px">4</text>
<text x="604.8" y="530.6" font-size="11.00" fill="#6e6e6e" stroke="#6e6e6e" text-anchor="middle" style="stroke-width:0.1px">5</text>
<text x="628.5" y="530.6" font-size="11.00" fill="#6e6e6e" stroke="#6e6e6e" text-anchor="middle" style="stroke-width:0.1px">6</text>
<text x="652.1" y="530.6" font-size="11.00" fill="#6e6e6e" stroke="#6e6e6e" text-anchor="middle" style="stroke-width:0.1px">7</text>
<text x="675.7" y="530.6" font-size="11.00" fill="#6e6e6e" stroke="#6e6e6e" text-anchor="middle" style="stroke-width:0.1px">8</text>
<text x="699.3" y="530.6" font-size="11.00" fill="#6e6e6e" stroke="#6e6e6e" text-anchor="middle" style="stroke-width:0.1px">9</text>
<text x="723.0" y="530.6" font-size="11.00" fill="#6e6e6e" stroke="#6e6e6e" text-anchor="middle" style="stroke-width:0.1px">10</text>
<text x="746.6" y="530.6" font-size="11.00" fill="#6e6e6e" stroke="#6e6e6e" text-anchor="middle" style="stroke-width:0.1px">11</text>
<text x="770.2" y="530.6" font-size="11.00" fill="#6e6e6e" stroke="#6e6e6e" text-anchor="middle" style="stroke-width:0.1px">12</text>
<text x="793.8" y="530.6" font-size="11.00" fill="#6e6e6e" stroke="#6e6e6e" text-anchor="middle" style="stroke-width:0.1px">13</text>
<text x="817.4" y="530.6" font-size="11.00" fill="#6e6e6e" stroke="#6e6e6e" text-anchor="middle" style="stroke-width:0.1px">14</text>
<text x="841.1" y="530.6" font-size="11.00" fill="#6e6e6e" stroke="#6e6e6e" text-anchor="middle" style="stroke-width:0.1px">15</text>
<text x="864.7" y="530.6" font-size="11.00" fill="#6e6e6e" stroke="#6e6e6e" text-anchor="middle" style="stroke-width:0.1px">16</text>
<text x="888.3" y="530.6" font-size="11.00" fill="#6e6e6e" stroke="#6e6e6e" text-anchor="middle" style="stroke-width:0.1px">17</text>
<text x="911.9" y="530.6" font-size="11.00" fill="#6e6e6e" stroke="#6e6e6e" text-anchor="middle" style="stroke-width:0.1px">18</text>
<polyline points="581.2,454.8 604.8,486.0 628.5,439.2 652.1,445.2 675.7,462.0 699.3,411.6 723.0,426.0 746.6,388.8 770.2,428.4 793.8,422.4 817.4,397.2 841.1,469.2 864.7,471.6 888.3,484.8 911.9,487.2" stroke="#cc121c" stroke-width="2" fill="none" stroke-linejoin="round"/>
<circle cx="581.2" cy="454.8" r="3.7" fill="#f00a14"/>
<circle cx="604.8" cy="486.0" r="3.7" fill="#f00a14"/>
<circle cx="628.5" cy="439.2" r="3.7" fill="#f00a14"/>
<circle cx="652.1" cy="445.2" r="3.7" fill="#f00a14"/>
<circle cx="675.7" cy="462.0" r="3.7" fill="#f00a14"/>
<circle cx="699.3" cy="411.6" r="3.7" fill="#f00a14"/>
<circle cx="723.0" cy="426.0" r="3.7" fill="#f00a14"/>
<circle cx="746.6" cy="388.8" r="3.7" fill="#f00a14"/>
<circle cx="770.2" cy="428.4" r="3.7" fill="#f00a14"/>
<circle cx="793.8" cy="422.4" r="3.7" fill="#f00a14"/>
<circle cx="817.4" cy="397.2" r="3.7" fill="#f00a14"/>
<circle cx="841.1" cy="469.2" r="3.7" fill="#f00a14"/>
<circle cx="864.7" cy="471.6" r="3.7" fill="#f00a14"/>
<circle cx="888.3" cy="484.8" r="3.7" fill="#f00a14"/>
<circle cx="911.9" cy="487.2" r="3.7" fill="#f00a14"/>
<polyline points="581.2,475.4 604.8,481.2 628.5,481.2 652.1,472.6 675.7,498.5 699.3,443.8 723.0,449.5 746.6,415.0 770.2,397.7 793.8,412.1 817.4,400.6 841.1,412.1 864.7,389.0 888.3,409.2 911.9,377.5" stroke="#0c1848" stroke-width="2" fill="none" stroke-linejoin="round"/>
<circle cx="581.2" cy="475.4" r="3.7" fill="#10296e"/>
<circle cx="604.8" cy="481.2" r="3.7" fill="#10296e"/>
<circle cx="628.5" cy="481.2" r="3.7" fill="#10296e"/>
<circle cx="652.1" cy="472.6" r="3.7" fill="#10296e"/>
<circle cx="675.7" cy="498.5" r="3.7" fill="#10296e"/>
<circle cx="699.3" cy="443.8" r="3.7" fill="#10296e"/>
<circle cx="723.0" cy="449.5" r="3.7" fill="#10296e"/>
<circle cx="746.6" cy="415.0" r="3.7" fill="#10296e"/>
<circle cx="770.2" cy="397.7" r="3.7" fill="#10296e"/>
<circle cx="793.8" cy="412.1" r="3.7" fill="#10296e"/>
<circle cx="817.4" cy="400.6" r="3.7" fill="#10296e"/>
<circle cx="841.1" cy="412.1" r="3.7" fill="#10296e"/>
<circle cx="864.7" cy="389.0" r="3.7" fill="#10296e"/>
<circle cx="888.3" cy="409.2" r="3.7" fill="#10296e"/>
<circle cx="911.9" cy="377.5" r="3.7" fill="#10296e"/>
<text x="583.4" y="447.1" font-size="11.00" fill="#ba2f38" stroke="#ba2f38" text-anchor="middle">46</text>
<text x="605.2" y="500.8" font-size="11.00" fill="#ba2f38" stroke="#ba2f38" text-anchor="middle">20</text>
<text x="626.6" y="433.0" font-size="11.00" fill="#ba2f38" stroke="#ba2f38" text-anchor="middle">59</text>
<text x="651.3" y="438.3" font-size="11.00" fill="#ba2f38" stroke="#ba2f38" text-anchor="middle">54</text>
<text x="671.8" y="452.2" font-size="11.00" fill="#ba2f38" stroke="#ba2f38" text-anchor="middle">40</text>
<text x="699.3" y="406.0" font-size="11.00" fill="#ba2f38" stroke="#ba2f38" text-anchor="middle">82</text>
<text x="719.6" y="415.5" font-size="11.00" fill="#ba2f38" stroke="#ba2f38" text-anchor="middle">70</text>
<text x="745.3" y="383.5" font-size="11.00" fill="#ba2f38" stroke="#ba2f38" text-anchor="middle">101</text>
<text x="769.8" y="442.7" font-size="11.00" fill="#ba2f38" stroke="#ba2f38" text-anchor="middle">68</text>
<text x="795.2" y="436.3" font-size="11.00" fill="#ba2f38" stroke="#ba2f38" text-anchor="middle">73</text>
<text x="813.8" y="392.0" font-size="11.00" fill="#ba2f38" stroke="#ba2f38" text-anchor="middle">94</text>
<text x="849.0" y="463.8" font-size="11.00" fill="#ba2f38" stroke="#ba2f38" text-anchor="middle">34</text>
<text x="874.4" y="466.7" font-size="11.00" fill="#ba2f38" stroke="#ba2f38" text-anchor="middle">32</text>
<text x="893.0" y="479.5" font-size="11.00" fill="#ba2f38" stroke="#ba2f38" text-anchor="middle">21</text>
<text x="918.4" y="480.7" font-size="11.00" fill="#ba2f38" stroke="#ba2f38" text-anchor="middle">19</text>
<text x="575.5" y="470.1" font-size="11.00" fill="#404040" stroke="#404040" text-anchor="middle">-0.38</text>
<text x="606.0" y="471.5" font-size="11.00" fill="#404040" stroke="#404040" text-anchor="middle">-0.4</text>
<text x="631.0" y="472.3" font-size="11.00" fill="#404040" stroke="#404040" text-anchor="middle">-0.4</text>
<text x="672.9" y="476.8" font-size="11.00" fill="#404040" stroke="#404040" text-anchor="middle">-0.37</text>
<text x="692.0" y="505.4" font-size="11.00" fill="#404040" stroke="#404040" text-anchor="middle">-0.46</text>
<text x="711.8" y="440.9" font-size="11.00" fill="#404040" stroke="#404040" text-anchor="middle">-0.27</text>
<text x="741.2" y="459.5" font-size="11.00" fill="#404040" stroke="#404040" text-anchor="middle">-0.29</text>
<text x="753.5" y="430.6" font-size="11.00" fill="#404040" stroke="#404040" text-anchor="middle">-0.17</text>
<text x="774.4" y="390.7" font-size="11.00" fill="#404040" stroke="#404040" text-anchor="middle">-0.11</text>
<text x="794.8" y="403.5" font-size="11.00" fill="#404040" stroke="#404040" text-anchor="middle">-0.16</text>
<text x="834.5" y="397.9" font-size="11.00" fill="#404040" stroke="#404040" text-anchor="middle">-0.12</text>
<text x="860.7" y="421.5" font-size="11.00" fill="#404040" stroke="#404040" text-anchor="middle">-0.16</text>
<text x="866.2" y="381.9" font-size="11.00" fill="#404040" stroke="#404040" text-anchor="middle">-0.08</text>
<text x="909.1" y="419.1" font-size="11.00" fill="#404040" stroke="#404040" text-anchor="middle">-0.15</text>
<text x="915.6" y="370.3" font-size="11.00" fill="#404040" stroke="#404040" text-anchor="middle">-0.04</text>
<text x="723.1" y="343.2" font-size="17.30" fill="#595959" stroke="#595959" style="stroke-width:0.12px" textLength="94.7" lengthAdjust="spacingAndGlyphs">Low Myopia</text>
<text transform="translate(530.4 436.0) rotate(-90)" x="-63.5" y="0" font-size="11.80" fill="#595959" stroke="#595959" textLength="127.0" lengthAdjust="spacingAndGlyphs">Number of individuals</text>
<text transform="translate(1019.8 437.4) rotate(-90)" x="-38.8" y="0" font-size="11.80" fill="#595959" stroke="#595959" textLength="77.7" lengthAdjust="spacingAndGlyphs">Diopters/year</text>
<text x="726.7" y="551.7" font-size="12.00" fill="#595959" stroke="#595959" style="stroke-width:0.20px" textLength="86.5" lengthAdjust="spacingAndGlyphs">Age of first visit</text>
<line x1="673.0" y1="584.2" x2="700.8" y2="584.2" stroke="#cc121c" stroke-width="2"/>
<circle cx="686.9" cy="584.2" r="3.7" fill="#f00a14"/>
<text x="704.9" y="588.1" font-size="10.80" fill="#606060" stroke="#606060" text-anchor="start">N</text>
<line x1="728.0" y1="584.2" x2="756.3" y2="584.2" stroke="#0c1848" stroke-width="2"/>
<circle cx="742.1" cy="584.2" r="3.7" fill="#10296e"/>
<text x="759.1" y="588.1" font-size="10.80" fill="#606060" stroke="#606060" style="stroke-width:0.15px" textLength="112.2" lengthAdjust="spacingAndGlyphs">Progression rate (D/y)</text>
<path d="M1089.4 366.00H1472.9M1089.4 383.88H1472.9M1089.4 389.83H1472.9M1089.4 401.75H1472.9M1089.4 413.67H1472.9M1089.4 419.62H1472.9M1089.4 437.50H1472.9M1089.4 455.38H1472.9M1089.4 461.33H1472.9M1089.4 473.25H1472.9M1089.4 485.17H1472.9M1089.4 491.12H1472.9M1089.4 509.00H1472.9M1105.80 366.0V509.0M1137.81 366.0V509.0M1169.82 366.0V509.0M1201.83 366.0V509.0M1233.84 366.0V509.0M1265.85 366.0V509.0M1297.85 366.0V509.0M1329.86 366.0V509.0M1361.87 366.0V509.0M1393.88 366.0V509.0M1425.89 366.0V509.0M1457.90 366.0V509.0" stroke="#d9d9d9" stroke-width="1" fill="none"/>
<text x="1078.1" y="512.7" font-size="11.00" fill="#6e6e6e" stroke="#6e6e6e" text-anchor="end" style="stroke-width:0.1px">0</text>
<text x="1078.1" y="488.9" font-size="11.00" fill="#6e6e6e" stroke="#6e6e6e" text-anchor="end" style="stroke-width:0.1px">1</text>
<text x="1078.1" y="465.0" font-size="11.00" fill="#6e6e6e" stroke="#6e6e6e" text-anchor="end" style="stroke-width:0.1px">2</text>
<text x="1078.1" y="441.2" font-size="11.00" fill="#6e6e6e" stroke="#6e6e6e" text-anchor="end" style="stroke-width:0.1px">3</text>
<text x="1078.1" y="417.4" font-size="11.00" fill="#6e6e6e" stroke="#6e6e6e" text-anchor="end" style="stroke-width:0.1px">4</text>
<text x="1078.1" y="393.5" font-size="11.00" fill="#6e6e6e" stroke="#6e6e6e" text-anchor="end" style="stroke-width:0.1px">5</text>
<text x="1078.1" y="369.7" font-size="11.00" fill="#6e6e6e" stroke="#6e6e6e" text-anchor="end" style="stroke-width:0.1px">6</text>
<text x="1485.7" y="369.7" font-size="11.00" fill="#6e6e6e" stroke="#6e6e6e" text-anchor="start" style="stroke-width:0.1px">0</text>
<text x="1485.7" y="387.6" font-size="11.00" fill="#6e6e6e" stroke="#6e6e6e" text-anchor="start" style="stroke-width:0.1px">-0.2</text>
<text x="1485.7" y="405.4" font-size="11.00" fill="#6e6e6e" stroke="#6e6e6e" text-anchor="start" style="stroke-width:0.1px">-0.4</text>
<text x="1485.7" y="423.3" font-size="11.00" fill="#6e6e6e" stroke="#6e6e6e" text-anchor="start" style="stroke-width:0.1px">-0.6</text>
<text x="1485.7" y="441.2" font-size="11.00" fill="#6e6e6e" stroke="#6e6e6e" text-anchor="start" style="stroke-width:0.1px">-0.8</text>
<text x="1485.7" y="459.1" font-size="11.00" fill="#6e6e6e" stroke="#6e6e6e" text-anchor="start" style="stroke-width:0.1px">-1</text>
<text x="1485.7" y="476.9" font-size="11.00" fill="#6e6e6e" stroke="#6e6e6e" text-anchor="start" style="stroke-width:0.1px">-1.2</text>
<text x="1485.7" y="494.8" font-size="11.00" fill="#6e6e6e" stroke="#6e6e6e" text-anchor="start" style="stroke-width:0.1px">-1.4</text>
<text x="1485.7" y="512.7" font-size="11.00" fill="#6e6e6e" stroke="#6e6e6e" text-anchor="start" style="stroke-width:0.1px">-1.6</text>
<text x="1105.8" y="529.9" font-size="11.00" fill="#6e6e6e" stroke="#6e6e6e" text-anchor="middle" style="stroke-width:0.1px">4</text>
<text x="1137.8" y="529.9" font-size="11.00" fill="#6e6e6e" stroke="#6e6e6e" text-anchor="middle" style="stroke-width:0.1px">5</text>
<text x="1169.8" y="529.9" font-size="11.00" fill="#6e6e6e" stroke="#6e6e6e" text-anchor="middle" style="stroke-width:0.1px">6</text>
<text x="1201.8" y="529.9" font-size="11.00" fill="#6e6e6e" stroke="#6e6e6e" text-anchor="middle" style="stroke-width:0.1px">7</text>
<text x="1233.8" y="529.9" font-size="11.00" fill="#6e6e6e" stroke="#6e6e6e" text-anchor="middle" style="stroke-width:0.1px">9</text>
<text x="1265.8" y="529.9" font-size="11.00" fill="#6e6e6e" stroke="#6e6e6e" text-anchor="middle" style="stroke-width:0.1px">10</text>
<text x="1297.9" y="529.9" font-size="11.00" fill="#6e6e6e" stroke="#6e6e6e" text-anchor="middle" style="stroke-width:0.1px">12</text>
<text x="1329.9" y="529.9" font-size="11.00" fill="#6e6e6e" stroke="#6e6e6e" text-anchor="middle" style="stroke-width:0.1px">13</text>
<text x="1361.9" y="529.9" font-size="11.00" fill="#6e6e6e" stroke="#6e6e6e" text-anchor="middle" style="stroke-width:0.1px">14</text>
<text x="1393.9" y="529.9" font-size="11.00" fill="#6e6e6e" stroke="#6e6e6e" text-anchor="middle" style="stroke-width:0.1px">15</text>
<text x="1425.9" y="529.9" font-size="11.00" fill="#6e6e6e" stroke="#6e6e6e" text-anchor="middle" style="stroke-width:0.1px">16</text>
<text x="1457.9" y="529.9" font-size="11.00" fill="#6e6e6e" stroke="#6e6e6e" text-anchor="middle" style="stroke-width:0.1px">18</text>
<polyline points="1105.8,437.5 1137.8,485.2 1169.8,461.3 1201.8,413.7 1233.8,485.2 1265.8,413.7 1297.9,461.3 1329.9,437.5 1361.9,461.3 1393.9,389.8 1425.9,461.3 1457.9,461.3" stroke="#cc121c" stroke-width="2" fill="none" stroke-linejoin="round"/>
<circle cx="1105.8" cy="437.5" r="3.7" fill="#f00a14"/>
<circle cx="1137.8" cy="485.2" r="3.7" fill="#f00a14"/>
<circle cx="1169.8" cy="461.3" r="3.7" fill="#f00a14"/>
<circle cx="1201.8" cy="413.7" r="3.7" fill="#f00a14"/>
<circle cx="1233.8" cy="485.2" r="3.7" fill="#f00a14"/>
<circle cx="1265.8" cy="413.7" r="3.7" fill="#f00a14"/>
<circle cx="1297.9" cy="461.3" r="3.7" fill="#f00a14"/>
<circle cx="1329.9" cy="437.5" r="3.7" fill="#f00a14"/>
<circle cx="1361.9" cy="461.3" r="3.7" fill="#f00a14"/>
<circle cx="1393.9" cy="389.8" r="3.7" fill="#f00a14"/>
<circle cx="1425.9" cy="461.3" r="3.7" fill="#f00a14"/>
<circle cx="1457.9" cy="461.3" r="3.7" fill="#f00a14"/>
<polyline points="1105.8,388.3 1137.8,388.3 1169.8,491.1 1201.8,407.1 1233.8,368.7 1265.8,419.6 1297.9,375.8 1329.9,366.0 1361.9,405.3 1393.9,366.0 1425.9,378.5 1457.9,366.0" stroke="#0c1848" stroke-width="2" fill="none" stroke-linejoin="round"/>
<circle cx="1105.8" cy="388.3" r="3.7" fill="#10296e"/>
<circle cx="1137.8" cy="388.3" r="3.7" fill="#10296e"/>
<circle cx="1169.8" cy="491.1" r="3.7" fill="#10296e"/>
<circle cx="1201.8" cy="407.1" r="3.7" fill="#10296e"/>
<circle cx="1233.8" cy="368.7" r="3.7" fill="#10296e"/>
<circle cx="1265.8" cy="419.6" r="3.7" fill="#10296e"/>
<circle cx="1297.9" cy="375.8" r="3.7" fill="#10296e"/>
<circle cx="1329.9" cy="366.0" r="3.7" fill="#10296e"/>
<circle cx="1361.9" cy="405.3" r="3.7" fill="#10296e"/>
<circle cx="1393.9" cy="366.0" r="3.7" fill="#10296e"/>
<circle cx="1425.9" cy="378.5" r="3.7" fill="#10296e"/>
<circle cx="1457.9" cy="366.0" r="3.7" fill="#10296e"/>
<text x="1116.0" y="439.0" font-size="11.00" fill="#ba2f38" stroke="#ba2f38" text-anchor="middle">3</text>
<text x="1147.2" y="496.3" font-size="11.00" fill="#ba2f38" stroke="#ba2f38" text-anchor="middle">1</text>
<text x="1169.0" y="454.7" font-size="11.00" fill="#ba2f38" stroke="#ba2f38" text-anchor="middle">2</text>
<text x="1215.0" y="417.6" font-size="11.00" fill="#ba2f38" stroke="#ba2f38" text-anchor="middle">4</text>
<text x="1249.3" y="489.5" font-size="11.00" fill="#ba2f38" stroke="#ba2f38" text-anchor="middle">1</text>
<text x="1266.4" y="405.0" font-size="11.00" fill="#ba2f38" stroke="#ba2f38" text-anchor="middle">4</text>
<text x="1302.7" y="474.8" font-size="11.00" fill="#ba2f38" stroke="#ba2f38" text-anchor="middle">2</text>
<text x="1330.2" y="431.2" font-size="11.00" fill="#ba2f38" stroke="#ba2f38" text-anchor="middle">3</text>
<text x="1369.7" y="476.2" font-size="11.00" fill="#ba2f38" stroke="#ba2f38" text-anchor="middle">2</text>
<text x="1404.2" y="390.5" font-size="11.00" fill="#ba2f38" stroke="#ba2f38" text-anchor="middle">5</text>
<text x="1425.2" y="475.9" font-size="11.00" fill="#ba2f38" stroke="#ba2f38" text-anchor="middle">2</text>
<text x="1459.0" y="454.8" font-size="11.00" fill="#ba2f38" stroke="#ba2f38" text-anchor="middle">2</text>
<text x="1105.3" y="382.7" font-size="11.00" fill="#404040" stroke="#404040" text-anchor="middle">-0.25</text>
<text x="1157.1" y="388.3" font-size="11.00" fill="#404040" stroke="#404040" text-anchor="middle">-0.25</text>
<text x="1188.7" y="495.5" font-size="11.00" fill="#404040" stroke="#404040" text-anchor="middle">-1.4</text>
<text x="1193.0" y="400.3" font-size="11.00" fill="#404040" stroke="#404040" text-anchor="middle">-0.46</text>
<text x="1229.0" y="362.9" font-size="11.00" fill="#404040" stroke="#404040" text-anchor="middle">-0.03</text>
<text x="1281.6" y="422.8" font-size="11.00" fill="#404040" stroke="#404040" text-anchor="middle">-0.6</text>
<text x="1311.0" y="389.0" font-size="11.00" fill="#404040" stroke="#404040" text-anchor="middle">-0.11</text>
<text x="1337.8" y="362.5" font-size="11.00" fill="#404040" stroke="#404040" text-anchor="middle">0</text>
<text x="1361.3" y="419.1" font-size="11.00" fill="#404040" stroke="#404040" text-anchor="middle">-0.44</text>
<text x="1394.2" y="360.2" font-size="11.00" fill="#404040" stroke="#404040" text-anchor="middle">0</text>
<text x="1433.9" y="392.2" font-size="11.00" fill="#404040" stroke="#404040" text-anchor="middle">-0.14</text>
<text x="1459.0" y="360.2" font-size="11.00" fill="#404040" stroke="#404040" text-anchor="middle">0</text>
<text x="1238.6" y="342.8" font-size="17.30" fill="#595959" stroke="#595959" style="stroke-width:0.12px" textLength="99.6" lengthAdjust="spacingAndGlyphs">High Myopia</text>
<text transform="translate(1064.0 436.4) rotate(-90)" x="-63.2" y="0" font-size="11.80" fill="#595959" stroke="#595959" textLength="126.4" lengthAdjust="spacingAndGlyphs">Number of individuals</text>
<text transform="translate(1523.4 437.4) rotate(-90)" x="-38.8" y="0" font-size="11.80" fill="#595959" stroke="#595959" textLength="77.7" lengthAdjust="spacingAndGlyphs">Diopters/year</text>
<text x="1246.8" y="551.1" font-size="12.00" fill="#595959" stroke="#595959" style="stroke-width:0.20px" textLength="72.4" lengthAdjust="spacingAndGlyphs">Age first visit</text>
<line x1="1190.0" y1="584.8" x2="1218.6" y2="584.8" stroke="#cc121c" stroke-width="2"/>
<circle cx="1204.3" cy="584.8" r="3.7" fill="#f00a14"/>
<text x="1220.9" y="588.7" font-size="10.80" fill="#606060" stroke="#606060" text-anchor="start">N</text>
<line x1="1245.0" y1="584.8" x2="1273.2" y2="584.8" stroke="#0c1848" stroke-width="2"/>
<circle cx="1259.1" cy="584.8" r="3.7" fill="#10296e"/>
<text x="1276.7" y="588.7" font-size="10.80" fill="#606060" stroke="#606060" style="stroke-width:0.15px" textLength="113.4" lengthAdjust="spacingAndGlyphs">Progression rate (D/y)</text>
<text x="8.3" y="31.8" font-size="27" font-weight="bold" fill="#000">A</text>
<text x="8.6" y="338.3" font-size="26.5" font-weight="bold" fill="#000">B</text>
</svg>
</body></html>
